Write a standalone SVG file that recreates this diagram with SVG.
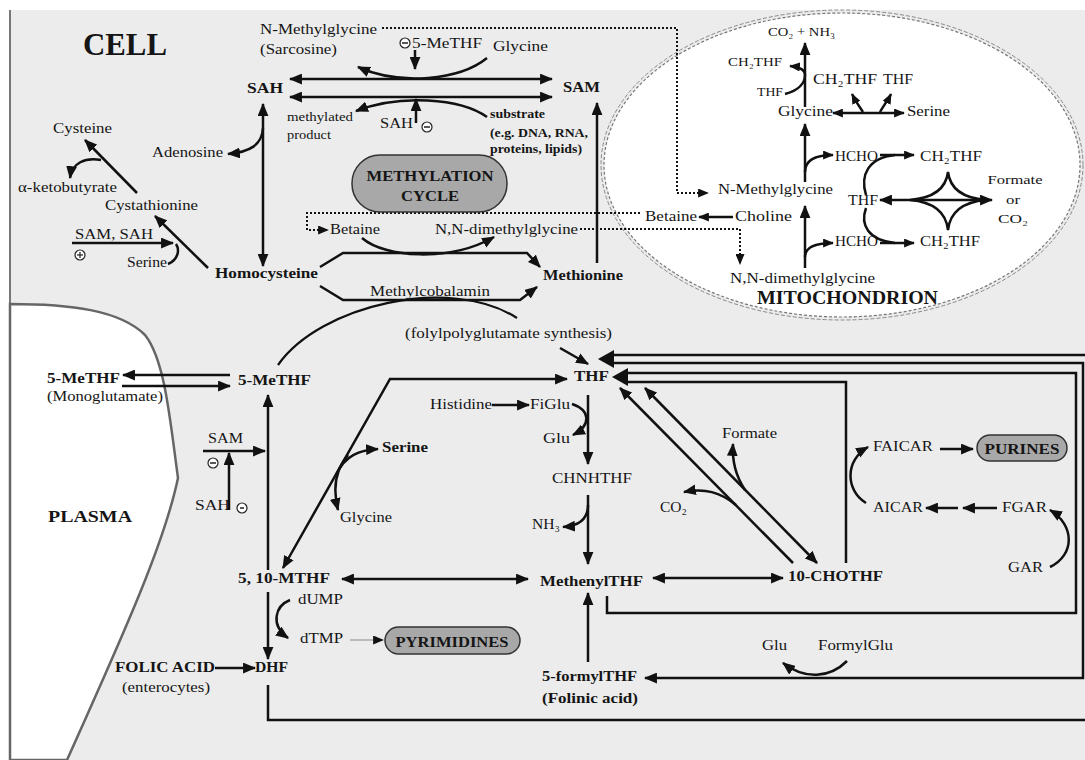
<svg xmlns="http://www.w3.org/2000/svg" width="1085" height="760" viewBox="0 0 1085 760">
<defs>
<style>
.t{font-family:"Liberation Serif","Times New Roman",serif;font-size:15px;fill:#151515}
.b{font-weight:bold}
.s{font-size:12px}
.m{font-size:14px}
.c{text-anchor:middle}
.sym{fill:#fff;stroke:#222;stroke-width:1.2}
.pill{fill:#a8a8a8;stroke:#333;stroke-width:1.5}
</style>
<marker id="ah" viewBox="0 0 12 10" refX="11" refY="5" markerWidth="13" markerHeight="11" markerUnits="userSpaceOnUse" orient="auto-start-reverse"><path d="M0,0 L12,5 L0,10 z" fill="#111"/></marker>
<marker id="as" viewBox="0 0 12 10" refX="11" refY="5" markerWidth="11" markerHeight="9" markerUnits="userSpaceOnUse" orient="auto-start-reverse"><path d="M0,0 L12,5 L0,10 z" fill="#111"/></marker>
</defs>
<rect x="0" y="0" width="1085" height="760" fill="#fff"/>
<rect x="10" y="10" width="1075" height="750" fill="#ececec"/>
<line x1="10" y1="10" x2="10" y2="760" stroke="#777" stroke-width="2"/>
<path id="plasma-region" d="M 10 304 C 70 304, 120 310, 145 335 C 165 360, 170 420, 178 478 C 165 540, 130 620, 67 760 L 10 760 Z" fill="#fff" stroke="#666" stroke-width="2.5"/>
<g id="mitochondrion-region">
<ellipse cx="842" cy="165" rx="238" ry="152" fill="#fff" stroke="#777" stroke-width="1.2" stroke-dasharray="3 2"/>
<ellipse cx="842" cy="165" rx="241" ry="155" fill="none" stroke="#888" stroke-width="1" stroke-dasharray="4 2"/>
</g>

<g id="connectors" fill="none" stroke="#111" stroke-width="2.5">
<path d="M 290 79 H 552" marker-start="url(#ah)" marker-end="url(#ah)"/>
<path d="M 290 97 H 552" marker-start="url(#ah)" marker-end="url(#ah)"/>
<path d="M 487 58 C 460 80, 400 86, 358 67" marker-end="url(#ah)"/>
<path d="M 415 50 V 69" marker-end="url(#ah)"/>
<path d="M 487 117 C 460 98, 400 94, 356 111" marker-end="url(#ah)"/>
<path d="M 416 123 V 99" marker-end="url(#ah)"/>
<path d="M 263 104 V 266" marker-start="url(#ah)" marker-end="url(#ah)"/>
<path d="M 263 128 C 262 145, 250 152, 228 154" marker-end="url(#ah)"/>
<path d="M 208 268 L 155 216" marker-end="url(#ah)"/>
<path d="M 137 193 L 85 140" marker-end="url(#ah)"/>
<path d="M 101 160 C 85 157, 72 163, 70 178" marker-end="url(#ah)"/>
<path d="M 72 243 H 173" marker-end="url(#ah)"/>
<path d="M 168 264 C 178 260, 180 250, 176 244"/>
<path d="M 320 267 L 343 253 H 527 L 540 267" marker-end="url(#ah)"/>
<path d="M 320 286 L 343 300 H 520 L 537 287" marker-end="url(#ah)"/>
<path d="M 362 238 C 385 258, 450 262, 494 237" marker-end="url(#ah)"/>
<path d="M 597 263 V 103" marker-end="url(#ah)"/>
<path d="M 278 365 C 320 305, 450 275, 517 318" stroke-width="2.2"/>
<g stroke-dasharray="2 2" stroke-width="2">
<path d="M 382 28 H 677 V 193 H 708" marker-end="url(#as)"/>
<path d="M 640 213 H 307 V 230 H 328" marker-end="url(#as)"/>
<path d="M 580 229 H 740 V 264" marker-end="url(#as)"/>
</g>
<path d="M 230 375 H 123" marker-end="url(#ah)"/>
<path d="M 122 386 H 230" marker-end="url(#ah)"/>
<path d="M 268 570 V 395" marker-end="url(#ah)"/>
<path d="M 203 451 H 265" marker-end="url(#ah)"/>
<path d="M 229 510 V 453" marker-end="url(#ah)"/>
<path d="M 283 568 L 390 379 H 567" marker-start="url(#ah)" marker-end="url(#ah)"/>
<path d="M 336 475 C 345 455, 360 450, 378 449" marker-end="url(#ah)"/>
<path d="M 348 455 C 335 470, 333 490, 338 510" marker-end="url(#ah)"/>
<path d="M 268 592 V 659" marker-end="url(#ah)"/>
<path d="M 290 600 C 275 606, 270 625, 288 638" marker-end="url(#ah)"/>
<path d="M 350 640 H 383" stroke="#888" stroke-width="1" marker-end="url(#as)"/>
<path d="M 215 668 H 255" marker-end="url(#ah)"/>
<path d="M 342 579 H 528" marker-start="url(#ah)" marker-end="url(#ah)"/>
<path d="M 268 685 V 720 H 1090"/>
<path d="M 560 348 L 588 364" marker-end="url(#ah)"/>
<path d="M 492 405 H 529" marker-end="url(#ah)"/>
<path d="M 588 395 V 464" marker-end="url(#ah)"/>
<path d="M 572 404 C 590 410, 592 425, 573 435" marker-end="url(#ah)"/>
<path d="M 588 495 V 564" marker-end="url(#ah)"/>
<path d="M 588 505 C 588 520, 578 526, 563 527" marker-end="url(#ah)"/>
<path d="M 588 662 V 593" marker-end="url(#ah)"/>
<path d="M 653 578 H 783" marker-start="url(#ah)" marker-end="url(#ah)"/>
<path d="M 607 596 V 613 H 1076 V 373 H 626"/>
<path d="M 645 678 H 1083 V 363 H 612" marker-start="url(#ah)"/>
<path d="M 1090 355 H 612"/>
<path d="M 846 563 V 382 H 626"/>
<polygon points="598,359 614,350 614,368" fill="#111" stroke="none"/>
<polygon points="612,377 628,368 628,386" fill="#111" stroke="none"/>
<path d="M 793 563 L 620 388" marker-end="url(#ah)"/>
<path d="M 645 388 L 817 563" marker-start="url(#ah)" marker-end="url(#ah)"/>
<path d="M 745 490 C 735 475, 732 460, 733 444" marker-end="url(#ah)"/>
<path d="M 736 505 C 720 492, 705 488, 684 492" marker-end="url(#ah)"/>
<path d="M 940 449 H 973" marker-end="url(#ah)"/>
<path d="M 866 503 C 845 490, 845 460, 868 447" marker-end="url(#ah)"/>
<path d="M 958 508 H 926" marker-end="url(#ah)"/>
<path d="M 997 508 H 963" marker-end="url(#ah)"/>
<path d="M 1050 567 C 1075 555, 1075 525, 1050 510" marker-end="url(#ah)"/>
<path d="M 847 661 C 830 678, 805 680, 783 663" marker-end="url(#ah)"/>
<path d="M 805 107 V 43" marker-end="url(#ah)"/>
<path d="M 785 94 C 800 90, 805 82, 805 75 C 805 70, 800 67, 790 66" marker-end="url(#as)"/>
<path d="M 833 113 H 904" marker-start="url(#as)" marker-end="url(#as)"/>
<path d="M 863 112 C 858 105, 855 100, 852 94" marker-end="url(#as)"/>
<path d="M 880 112 C 884 105, 888 100, 891 94" marker-end="url(#as)"/>
<path d="M 805 182 V 124" marker-end="url(#ah)"/>
<path d="M 805 172 C 805 160, 815 155, 833 155" marker-end="url(#as)"/>
<path d="M 880 155 H 914" marker-end="url(#as)"/>
<path d="M 866 195 C 860 175, 868 158, 895 155"/>
<path d="M 880 200 H 992" marker-start="url(#ah)" marker-end="url(#ah)"/>
<path d="M 948 172 Q 945 197 910 200 Q 945 203 948 230 Q 951 203 986 200 Q 951 197 948 172 Z"/>
<path d="M 805 268 V 206" marker-end="url(#ah)"/>
<path d="M 805 257 C 805 248, 815 243, 833 243" marker-end="url(#as)"/>
<path d="M 880 243 H 914" marker-end="url(#as)"/>
<path d="M 866 208 C 860 225, 868 240, 895 243"/>
<path d="M 733 217 H 699" marker-end="url(#as)"/>
</g>

<g id="inhibitors">
<g id="sym-minus-1"><circle class="sym" cx="405" cy="43" r="5"/><line x1="402" y1="43" x2="408" y2="43" stroke="#222" stroke-width="1.5"/></g>
<g id="sym-minus-2"><circle class="sym" cx="427" cy="127" r="5"/><line x1="424" y1="127" x2="430" y2="127" stroke="#222" stroke-width="1.5"/></g>
<g id="sym-plus"><circle class="sym" cx="80" cy="255" r="5"/><line x1="77" y1="255" x2="83" y2="255" stroke="#222" stroke-width="1.2"/><line x1="80" y1="252" x2="80" y2="258" stroke="#222" stroke-width="1.2"/></g>
<g id="sym-minus-3"><circle class="sym" cx="213" cy="463" r="5"/><line x1="210" y1="463" x2="216" y2="463" stroke="#222" stroke-width="1.5"/></g>
<g id="sym-minus-4"><circle class="sym" cx="242" cy="508" r="5"/><line x1="240" y1="508" x2="244" y2="508" stroke="#222" stroke-width="1.5"/></g>
</g>

<g id="n-cell"><text class="t b" x="83" y="55" style="font-size:32px" textLength="84" lengthAdjust="spacingAndGlyphs">CELL</text></g>
<g id="n-nmg-top"><text class="t" x="260" y="34" textLength="117" lengthAdjust="spacingAndGlyphs">N-Methylglycine</text><text class="t" x="260" y="54" textLength="77" lengthAdjust="spacingAndGlyphs">(Sarcosine)</text></g>
<g id="n-sah"><text class="t b" x="247" y="93" textLength="36" lengthAdjust="spacingAndGlyphs">SAH</text></g>
<g id="n-methylated"><text class="t s" x="287" y="121" textLength="66" lengthAdjust="spacingAndGlyphs">methylated</text><text class="t s" x="287" y="139" textLength="44" lengthAdjust="spacingAndGlyphs">product</text></g>
<g id="n-cysteine"><text class="t" x="53" y="133" textLength="59" lengthAdjust="spacingAndGlyphs">Cysteine</text></g>
<g id="n-adenosine"><text class="t" x="152" y="157" textLength="71" lengthAdjust="spacingAndGlyphs">Adenosine</text></g>
<g id="n-akb"><text class="t" x="18" y="192" textLength="99" lengthAdjust="spacingAndGlyphs">α-ketobutyrate</text></g>
<g id="n-cystathionine"><text class="t" x="105" y="210" textLength="93" lengthAdjust="spacingAndGlyphs">Cystathionine</text></g>
<g id="n-samsah"><text class="t" x="75" y="239" textLength="78" lengthAdjust="spacingAndGlyphs">SAM, SAH</text></g>
<g id="n-serine-left"><text class="t" x="127" y="267" textLength="40" lengthAdjust="spacingAndGlyphs">Serine</text></g>
<g id="n-homocysteine"><text class="t b" x="215" y="278" textLength="103" lengthAdjust="spacingAndGlyphs">Homocysteine</text></g>
<g id="n-5methf-top"><text class="t m" x="412" y="48" textLength="70" lengthAdjust="spacingAndGlyphs">5-MeTHF</text></g>
<g id="n-glycine-top"><text class="t" x="493" y="51" textLength="55" lengthAdjust="spacingAndGlyphs">Glycine</text></g>
<g id="n-sah-mid"><text class="t m" x="380" y="128" textLength="33" lengthAdjust="spacingAndGlyphs">SAH</text></g>
<g id="n-substrate"><text class="t s b" x="490" y="118" textLength="55" lengthAdjust="spacingAndGlyphs">substrate</text><text class="t s b" x="490" y="137" textLength="98" lengthAdjust="spacingAndGlyphs">(e.g. DNA, RNA,</text><text class="t s b" x="490" y="153" textLength="92" lengthAdjust="spacingAndGlyphs">proteins, lipids)</text></g>
<g id="n-methylation-cycle"><rect class="pill" x="352" y="155" width="155" height="57" rx="28"/><text class="t b c" x="430" y="181" textLength="127" lengthAdjust="spacingAndGlyphs">METHYLATION</text><text class="t b c" x="430" y="201" textLength="58" lengthAdjust="spacingAndGlyphs">CYCLE</text></g>
<g id="n-sam"><text class="t b" x="563" y="92" textLength="37" lengthAdjust="spacingAndGlyphs">SAM</text></g>
<g id="n-betaine-cell"><text class="t" x="330" y="234" textLength="50" lengthAdjust="spacingAndGlyphs">Betaine</text></g>
<g id="n-nndmg-cell"><text class="t" x="435" y="234" textLength="143" lengthAdjust="spacingAndGlyphs">N,N-dimethylglycine</text></g>
<g id="n-methionine"><text class="t b" x="543" y="280" textLength="80" lengthAdjust="spacingAndGlyphs">Methionine</text></g>
<g id="n-methylcobalamin"><text class="t" x="370" y="296" textLength="120" lengthAdjust="spacingAndGlyphs">Methylcobalamin</text></g>
<g id="n-folylpoly"><text class="t" x="405" y="338" textLength="207" lengthAdjust="spacingAndGlyphs">(folylpolyglutamate synthesis)</text></g>
<g id="n-5methf-plasma"><text class="t b" x="47" y="383" textLength="73" lengthAdjust="spacingAndGlyphs">5-MeTHF</text><text class="t" x="47" y="401" textLength="116" lengthAdjust="spacingAndGlyphs">(Monoglutamate)</text></g>
<g id="n-5methf-cell"><text class="t b" x="238" y="385" textLength="73" lengthAdjust="spacingAndGlyphs">5-MeTHF</text></g>
<g id="n-thf"><text class="t b" x="574" y="381" textLength="35" lengthAdjust="spacingAndGlyphs">THF</text></g>
<g id="n-histidine"><text class="t" x="430" y="409" textLength="62" lengthAdjust="spacingAndGlyphs">Histidine</text></g>
<g id="n-figlu"><text class="t" x="530" y="409" textLength="40" lengthAdjust="spacingAndGlyphs">FiGlu</text></g>
<g id="n-glu-mid"><text class="t m" x="543" y="443" textLength="27" lengthAdjust="spacingAndGlyphs">Glu</text></g>
<g id="n-serine"><text class="t b" x="382" y="452" textLength="46" lengthAdjust="spacingAndGlyphs">Serine</text></g>
<g id="n-chnhthf"><text class="t" x="552" y="483" textLength="80" lengthAdjust="spacingAndGlyphs">CHNHTHF</text></g>
<g id="n-glycine-mid"><text class="t" x="340" y="522" textLength="52" lengthAdjust="spacingAndGlyphs">Glycine</text></g>
<g id="n-nh3"><text class="t m" x="532" y="529" textLength="28" lengthAdjust="spacingAndGlyphs">NH₃</text></g>
<g id="n-co2-mid"><text class="t m" x="660" y="512" textLength="27" lengthAdjust="spacingAndGlyphs">CO₂</text></g>
<g id="n-formate-mid"><text class="t m" x="722" y="438" textLength="55" lengthAdjust="spacingAndGlyphs">Formate</text></g>
<g id="n-sam-plasma"><text class="t" x="208" y="443" textLength="35" lengthAdjust="spacingAndGlyphs">SAM</text></g>
<g id="n-sah-plasma"><text class="t" x="195" y="510" textLength="35" lengthAdjust="spacingAndGlyphs">SAH</text></g>
<g id="n-plasma"><text class="t b" x="48" y="522" style="font-size:17px" textLength="84" lengthAdjust="spacingAndGlyphs">PLASMA</text></g>
<g id="n-510mthf"><text class="t b" x="238" y="583" textLength="92" lengthAdjust="spacingAndGlyphs">5, 10-MTHF</text></g>
<g id="n-methenylthf"><text class="t b" x="540" y="586" textLength="103" lengthAdjust="spacingAndGlyphs">MethenylTHF</text></g>
<g id="n-10chothf"><text class="t b" x="788" y="581" textLength="95" lengthAdjust="spacingAndGlyphs">10-CHOTHF</text></g>
<g id="n-dump"><text class="t" x="298" y="604" textLength="45" lengthAdjust="spacingAndGlyphs">dUMP</text></g>
<g id="n-dtmp"><text class="t" x="300" y="643" textLength="43" lengthAdjust="spacingAndGlyphs">dTMP</text></g>
<g id="n-pyrimidines"><rect class="pill" x="385" y="627" width="135" height="27" rx="13.5" fill="#b5b5b5"/><text class="t b c m" x="452" y="647" textLength="113" lengthAdjust="spacingAndGlyphs">PYRIMIDINES</text></g>
<g id="n-folic"><text class="t b" x="115" y="672" textLength="100" lengthAdjust="spacingAndGlyphs">FOLIC ACID</text><text class="t" x="122" y="692" textLength="88" lengthAdjust="spacingAndGlyphs">(enterocytes)</text></g>
<g id="n-dhf"><text class="t b" x="255" y="672" textLength="33" lengthAdjust="spacingAndGlyphs">DHF</text></g>
<g id="n-5formylthf"><text class="t b" x="542" y="681" textLength="95" lengthAdjust="spacingAndGlyphs">5-formylTHF</text><text class="t b" x="542" y="703" textLength="96" lengthAdjust="spacingAndGlyphs">(Folinic acid)</text></g>
<g id="n-glu-bottom"><text class="t m" x="762" y="650" textLength="25" lengthAdjust="spacingAndGlyphs">Glu</text></g>
<g id="n-formylglu"><text class="t m" x="818" y="650" textLength="75" lengthAdjust="spacingAndGlyphs">FormylGlu</text></g>
<g id="n-faicar"><text class="t m" x="873" y="451" textLength="60" lengthAdjust="spacingAndGlyphs">FAICAR</text></g>
<g id="n-purines"><rect class="pill" x="977" y="435" width="90" height="26" rx="13" fill="#b5b5b5"/><text class="t b c m" x="1022" y="454" textLength="75" lengthAdjust="spacingAndGlyphs">PURINES</text></g>
<g id="n-aicar"><text class="t m" x="873" y="512" textLength="50" lengthAdjust="spacingAndGlyphs">AICAR</text></g>
<g id="n-fgar"><text class="t m" x="1002" y="512" textLength="45" lengthAdjust="spacingAndGlyphs">FGAR</text></g>
<g id="n-gar"><text class="t m" x="1008" y="572" textLength="35" lengthAdjust="spacingAndGlyphs">GAR</text></g>

<g id="n-co2nh3"><text class="t" x="768" y="36" style="font-size:13px" textLength="67" lengthAdjust="spacingAndGlyphs">CO₂ + NH₃</text></g>
<g id="n-ch2thf-tl"><text class="t" x="728" y="66" style="font-size:13px" textLength="54" lengthAdjust="spacingAndGlyphs">CH₂THF</text></g>
<g id="n-thf-tl"><text class="t" x="757" y="96" style="font-size:13px" textLength="26" lengthAdjust="spacingAndGlyphs">THF</text></g>
<g id="n-ch2thf-2"><text class="t m" x="813" y="84" textLength="64" lengthAdjust="spacingAndGlyphs">CH₂THF</text></g>
<g id="n-thf-2"><text class="t m" x="883" y="84" textLength="30" lengthAdjust="spacingAndGlyphs">THF</text></g>
<g id="n-glycine-mito"><text class="t m" x="778" y="116" textLength="55" lengthAdjust="spacingAndGlyphs">Glycine</text></g>
<g id="n-serine-mito"><text class="t m" x="907" y="116" textLength="43" lengthAdjust="spacingAndGlyphs">Serine</text></g>
<g id="n-hcho-up"><text class="t m" x="835" y="161" textLength="43" lengthAdjust="spacingAndGlyphs">HCHO</text></g>
<g id="n-ch2thf-ur"><text class="t m" x="920" y="161" textLength="62" lengthAdjust="spacingAndGlyphs">CH₂THF</text></g>
<g id="n-formate-mito"><text class="t s c" x="1015" y="184" textLength="55" lengthAdjust="spacingAndGlyphs">Formate</text><text class="t c" x="1013" y="204" style="font-size:13px" textLength="14" lengthAdjust="spacingAndGlyphs">or</text><text class="t c" x="1013" y="223" style="font-size:13px" textLength="30" lengthAdjust="spacingAndGlyphs">CO₂</text></g>
<g id="n-nmg-mito"><text class="t" x="718" y="194" textLength="115" lengthAdjust="spacingAndGlyphs">N-Methylglycine</text></g>
<g id="n-thf-mito"><text class="t m" x="848" y="205" textLength="30" lengthAdjust="spacingAndGlyphs">THF</text></g>
<g id="n-betaine-mito"><text class="t m" x="645" y="221" textLength="52" lengthAdjust="spacingAndGlyphs">Betaine</text></g>
<g id="n-choline"><text class="t m" x="735" y="221" textLength="57" lengthAdjust="spacingAndGlyphs">Choline</text></g>
<g id="n-hcho-low"><text class="t m" x="835" y="246" textLength="43" lengthAdjust="spacingAndGlyphs">HCHO</text></g>
<g id="n-ch2thf-lr"><text class="t m" x="920" y="246" textLength="60" lengthAdjust="spacingAndGlyphs">CH₂THF</text></g>
<g id="n-nndmg-mito"><text class="t m" x="730" y="283" textLength="145" lengthAdjust="spacingAndGlyphs">N,N-dimethylglycine</text></g>
<g id="n-mitochondrion"><text class="t b" x="757" y="304" style="font-size:19px" textLength="181" lengthAdjust="spacingAndGlyphs">MITOCHONDRION</text></g>
</svg>
